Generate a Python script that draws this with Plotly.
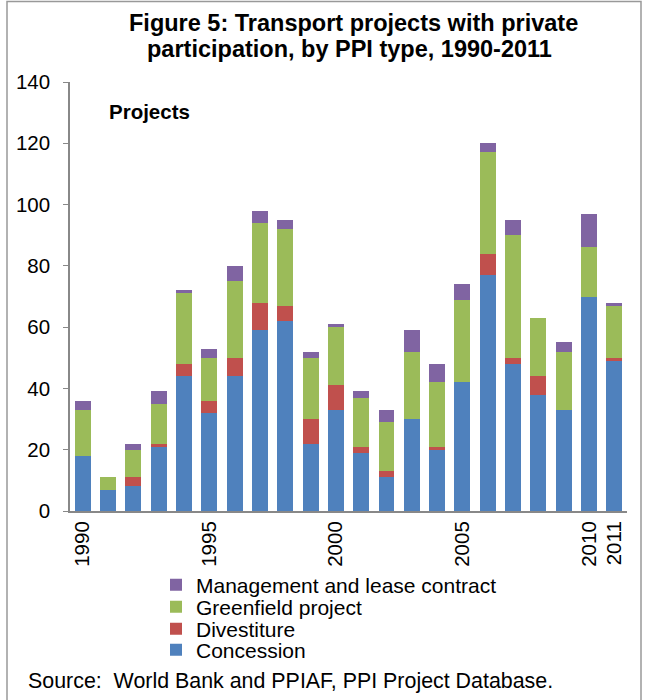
import plotly.graph_objects as go

years = [str(y) for y in range(1990, 2012)]
concession = [18, 7, 8, 21, 44, 32, 44, 59, 62, 22, 33, 19, 11, 30, 20, 42, 77, 48, 38, 33, 70, 49]
divestiture = [0, 0, 3, 1, 4, 4, 6, 9, 5, 8, 8, 2, 2, 0, 1, 0, 7, 2, 6, 0, 0, 1]
greenfield = [15, 4, 9, 13, 23, 14, 25, 26, 25, 20, 19, 16, 16, 22, 21, 27, 33, 40, 19, 19, 16, 17]
management = [3, 0, 2, 4, 1, 3, 5, 4, 3, 2, 1, 2, 4, 7, 6, 5, 3, 5, 0, 3, 11, 1]
shown_ticks = ["1990", "1995", "2000", "2005", "2010", "2011"]
title_lines = ["Figure 5: Transport projects with private", "participation, by PPI type, 1990-2011"]

series = [
    ("Concession", concession, "#4F81BD", "legend4", 650),
    ("Divestiture", divestiture, "#C0504D", "legend3", 629),
    ("Greenfield project", greenfield, "#9BBB59", "legend2", 607),
    ("Management and lease contract", management, "#8064A2", "legend", 585),
]

W, H = 646, 700
L, R, T, B = 70, 19, 82, 189
pw = W - L - R
ph = H - T - B


def px_x(p):
    return (p - L) / pw


def px_y(p):
    return (T + ph - p) / ph


fig = go.Figure()
legend_layout = {}
for name, vals, col, lg, cy in series:
    fig.add_trace(go.Bar(x=years, y=vals, name=name, legend=lg,
                         marker=dict(color=col, line=dict(width=0))))
    legend_layout[lg] = dict(xref="container", yref="container",
                             x=(196 - 40) / W, xanchor="left",
                             y=1 - cy / H, yanchor="middle",
                             font=dict(size=21), itemwidth=30,
                             bgcolor="rgba(0,0,0,0)")

FONT = "Liberation Sans, Arial, sans-serif"

annotations = [
    dict(text="<b>%s</b>" % title_lines[0], xref="paper", yref="paper", x=px_x(353), xanchor="center",
         y=px_y(23), yanchor="middle", showarrow=False, font=dict(size=23.5, family=FONT)),
    dict(text="<b>%s</b>" % title_lines[1], xref="paper", yref="paper", x=px_x(349), xanchor="center",
         y=px_y(48.5), yanchor="middle", showarrow=False, font=dict(size=23.5, family=FONT)),
    dict(text="<b>Projects</b>", xref="paper", yref="paper", x=px_x(107), xanchor="left",
         y=px_y(111), yanchor="middle", showarrow=False, font=dict(size=20.5)),
    dict(text="Source:  World Bank and PPIAF, PPI Project Database.", xref="paper", yref="paper",
         x=px_x(26), xanchor="left", y=px_y(681), yanchor="middle",
         showarrow=False, font=dict(size=21.4)),
]

fig.update_layout(
    width=W, height=H,
    barmode="stack", bargap=0.37,
    margin=dict(l=L, r=R, t=T, b=B, autoexpand=False),
    paper_bgcolor="white", plot_bgcolor="white",
    font=dict(family=FONT, color="black", size=20),
    showlegend=True,
    xaxis=dict(type="category", tickmode="array", tickvals=shown_ticks, ticktext=shown_ticks,
               tickangle=-90, showline=True, linecolor="#888888", linewidth=2,
               ticks="", showgrid=False, tickfont=dict(size=20.5), automargin=False),
    yaxis=dict(range=[0, 140], dtick=20, showline=True, linecolor="#888888", linewidth=1.5,
               ticks="outside", ticklen=5, tickcolor="#888888", showgrid=False,
               tickfont=dict(size=20.5), zeroline=False, automargin=False,
               ticklabelstandoff=9),
    annotations=annotations,
    shapes=[
        dict(type="rect", xref="paper", yref="paper",
             x0=px_x(7), x1=px_x(641), y0=px_y(H + 5), y1=px_y(1.5),
             line=dict(color="#999999", width=1.5), fillcolor="rgba(0,0,0,0)", layer="below"),
    ],
    **legend_layout,
)

fig.write_html("out.html", config={"displayModeBar": False},
               post_script="document.body.style.margin='0';")
